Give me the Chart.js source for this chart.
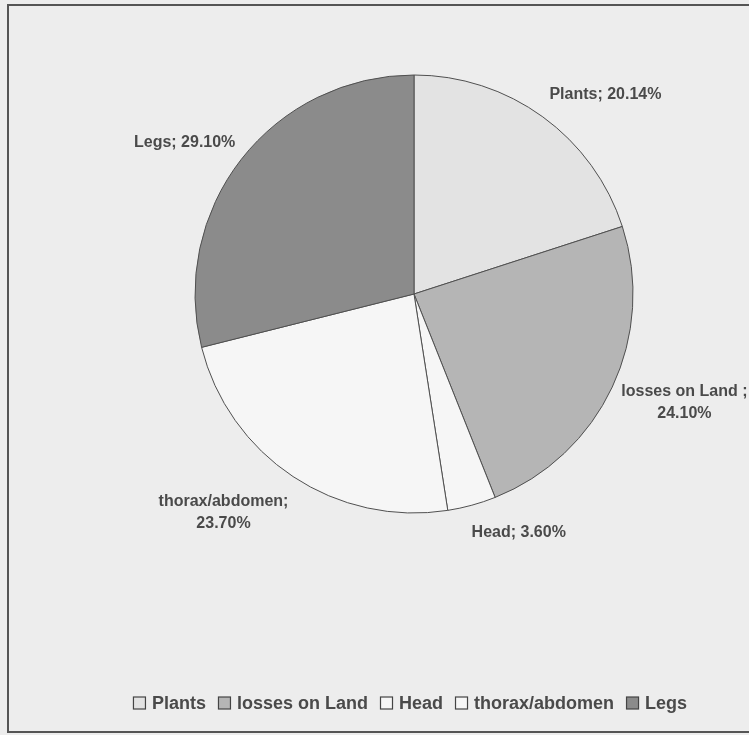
<!DOCTYPE html>
<html>
<head>
<meta charset="utf-8">
<script src="https://cdn.jsdelivr.net/npm/chart.js@4.4.1/dist/chart.umd.min.js"></script>
<style>
  html, body { margin: 0; padding: 0; background: #ececec; }
  #wrap { width: 749px; height: 735px; }
</style>
</head>
<body>
<div id="wrap"><canvas id="pieChart" width="749" height="735"></canvas></div>
<script>
const categories = ["Plants", "losses on Land", "Head", "thorax/abdomen", "Legs"];
const shares = [20.14, 24.10, 3.60, 23.70, 29.10];
const sliceColors = ["#e3e3e3", "#b5b5b5", "#f6f6f6", "#f6f6f6", "#8b8b8b"];
const labelSeparators = [";", " ;", ";", ";", ";"];
const labelWrapped = [false, true, false, true, false];

// nudges from the radial anchor, in px
const labelOffsets = [[45, 2], [45, 3], [39, -2], [-53, 11], [-33, 2]];

const FONT = "'Liberation Sans', Arial, sans-serif";

const framePlugin = {
  id: "frame",
  beforeDraw(chart) {
    const ctx = chart.ctx;
    ctx.save();
    ctx.fillStyle = "#ededed";
    ctx.fillRect(0, 0, chart.width, chart.height);
    ctx.strokeStyle = "#555";
    ctx.lineWidth = 2;
    ctx.beginPath();
    ctx.moveTo(760, 5);
    ctx.lineTo(8, 5);
    ctx.lineTo(8, 732);
    ctx.lineTo(760, 732);
    ctx.stroke();
    ctx.restore();
  }
};

const sliceLabels = {
  id: "sliceLabels",
  afterDatasetsDraw(chart) {
    const ctx = chart.ctx;
    const meta = chart.getDatasetMeta(0);
    const values = chart.data.datasets[0].data;
    ctx.save();
    ctx.font = "bold 16px " + FONT;
    ctx.fillStyle = "#4a4a4a";
    ctx.textAlign = "center";
    ctx.textBaseline = "middle";
    meta.data.forEach((arc, i) => {
      const p = arc.getProps(["x", "y", "startAngle", "endAngle", "outerRadius"], true);
      const mid = (p.startAngle + p.endAngle) / 2;
      const r = p.outerRadius + 30;
      const x = p.x + Math.cos(mid) * r + labelOffsets[i][0];
      const y = p.y + Math.sin(mid) * r + labelOffsets[i][1];
      const pct = values[i].toFixed(2) + "%";
      const head = chart.data.labels[i] + labelSeparators[i];
      if (labelWrapped[i]) {
        ctx.fillText(head, x, y - 11);
        ctx.fillText(pct, x, y + 11);
      } else {
        ctx.fillText(head + " " + pct, x, y);
      }
    });
    ctx.restore();
  }
};

const bottomLegend = {
  id: "bottomLegend",
  afterDraw(chart) {
    const ctx = chart.ctx;
    const labels = chart.data.labels;
    const colors = chart.data.datasets[0].backgroundColor;
    const box = 13, gapText = 6, gapItem = 12;
    ctx.save();
    ctx.font = "bold 18px " + FONT;
    const widths = labels.map(l => ctx.measureText(l).width);
    let total = 0;
    widths.forEach(w => { total += box + gapText + w; });
    total += gapItem * (labels.length - 1);
    let x = 410 - total / 2;
    const y = 703;
    ctx.textBaseline = "middle";
    ctx.textAlign = "left";
    labels.forEach((l, i) => {
      ctx.fillStyle = colors[i];
      ctx.fillRect(x + 0.5, y - box / 2 + 0.5, box - 1, box - 1);
      ctx.strokeStyle = "#444";
      ctx.lineWidth = 1.2;
      ctx.strokeRect(x + 0.5, y - box / 2 + 0.5, box - 1, box - 1);
      ctx.fillStyle = "#4a4a4a";
      ctx.fillText(l, x + box + gapText, y + 1);
      x += box + gapText + widths[i] + gapItem;
    });
    ctx.restore();
  }
};

const ctx = document.getElementById("pieChart").getContext("2d");
new Chart(ctx, {
  type: "pie",
  data: {
    labels: categories,
    datasets: [{
      data: shares,
      backgroundColor: sliceColors,
      borderColor: "#505050",
      borderWidth: 1,
      hoverOffset: 0
    }]
  },
  options: {
    responsive: false,
    animation: false,
    devicePixelRatio: 1,
    layout: {
      padding: { top: 74.5, left: 194.5, right: 115.5, bottom: 221.5 }
    },
    plugins: {
      legend: { display: false },
      tooltip: { enabled: false }
    }
  },
  plugins: [framePlugin, sliceLabels, bottomLegend]
});
</script>
</body>
</html>
